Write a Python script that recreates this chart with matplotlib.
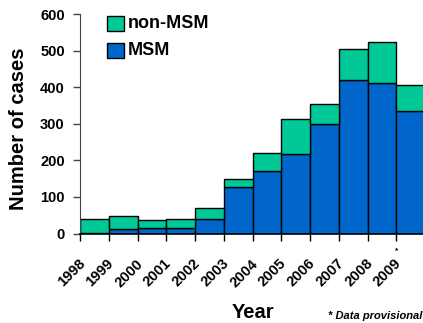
import matplotlib
matplotlib.use("Agg")
import matplotlib.pyplot as plt
import numpy as np
from matplotlib.patches import Rectangle
import matplotlib.transforms as mtransforms

plt.rcParams['font.family'] = ['Liberation Sans', 'DejaVu Sans']

years = ['1998', '1999', '2000', '2001', '2002', '2003', '2004', '2005',
         '2006', '2007', '2008', '2009']
msm = [2, 12, 16, 16, 39, 126, 170, 216, 299, 419, 411, 335]
total = [41, 47, 36, 41, 71, 148, 219, 312, 355, 504, 524, 406]
non_msm = [t - m for t, m in zip(total, msm)]
legend_labels = ['non-MSM', 'MSM']

green = '#00C896'
blue = '#0066CC'

W, H = 423, 323
fig = plt.figure(figsize=(W/100, H/100), dpi=100)
ax = fig.add_axes([80/W, (H-233.5)/H, 345/W, 219.5/H])

x = np.arange(len(years))
ax.bar(x, msm, width=1.0, color=blue, edgecolor='black', linewidth=1.0)
ax.bar(x, non_msm, width=1.0, bottom=msm, color=green, edgecolor='black', linewidth=1.0)

ax.set_xlim(-0.5, len(years) - 0.5)
ax.set_ylim(0, 600)
ax.set_yticks([0, 100, 200, 300, 400, 500, 600])
ax.tick_params(axis='y', labelsize=10.5, length=5, width=1, color='#444444', pad=6)
for lab in ax.get_yticklabels():
    lab.set_fontweight('bold')

ax.set_xticks(np.arange(len(years) + 1) - 0.5)
ax.set_xticklabels([])
ax.tick_params(axis='x', length=5, width=1, color='black')

for s in ['top', 'right']:
    ax.spines[s].set_visible(False)
ax.spines['left'].set_color('#444444')
ax.spines['bottom'].set_color('black')
ax.spines['bottom'].set_linewidth(1.2)

# rotated year labels
off = mtransforms.ScaledTranslation(-6.5/100, -23/100, fig.dpi_scale_trans)
for xi, yr in zip(x, years):
    ax.text(xi, 0, yr, transform=ax.get_xaxis_transform() + off, rotation=45,
            ha='right', va='top', fontsize=10.5, fontweight='bold')
fig.text(397/W, 1 - 251/H, '*', ha='center', va='center', fontsize=6, fontweight='bold')

fig.text(18.5/W, 1 - 128.5/H, 'Number of cases', rotation=90, ha='center', va='center',
         fontsize=14.5, fontweight='bold')
fig.text(253/W, 1 - 313/H, 'Year', ha='center', va='center', fontsize=14.5, fontweight='bold')
fig.text(422/W, 1 - 316/H, '* Data provisional', ha='right', va='center', fontsize=8,
         fontweight='bold', style='italic')

# legend
for i, (lab, col) in enumerate(zip(legend_labels, [green, blue])):
    ytop = 16 + i * 27
    fig.add_artist(Rectangle((107/W, 1 - (ytop + 15)/H), 17/W, 15/H, facecolor=col,
                             edgecolor='black', linewidth=1.0, transform=fig.transFigure))
    fig.text(127.5/W, 1 - (ytop + 7.5)/H, lab, ha='left', va='center', fontsize=13,
             fontweight='bold')

fig.savefig('out.png', dpi=100)
